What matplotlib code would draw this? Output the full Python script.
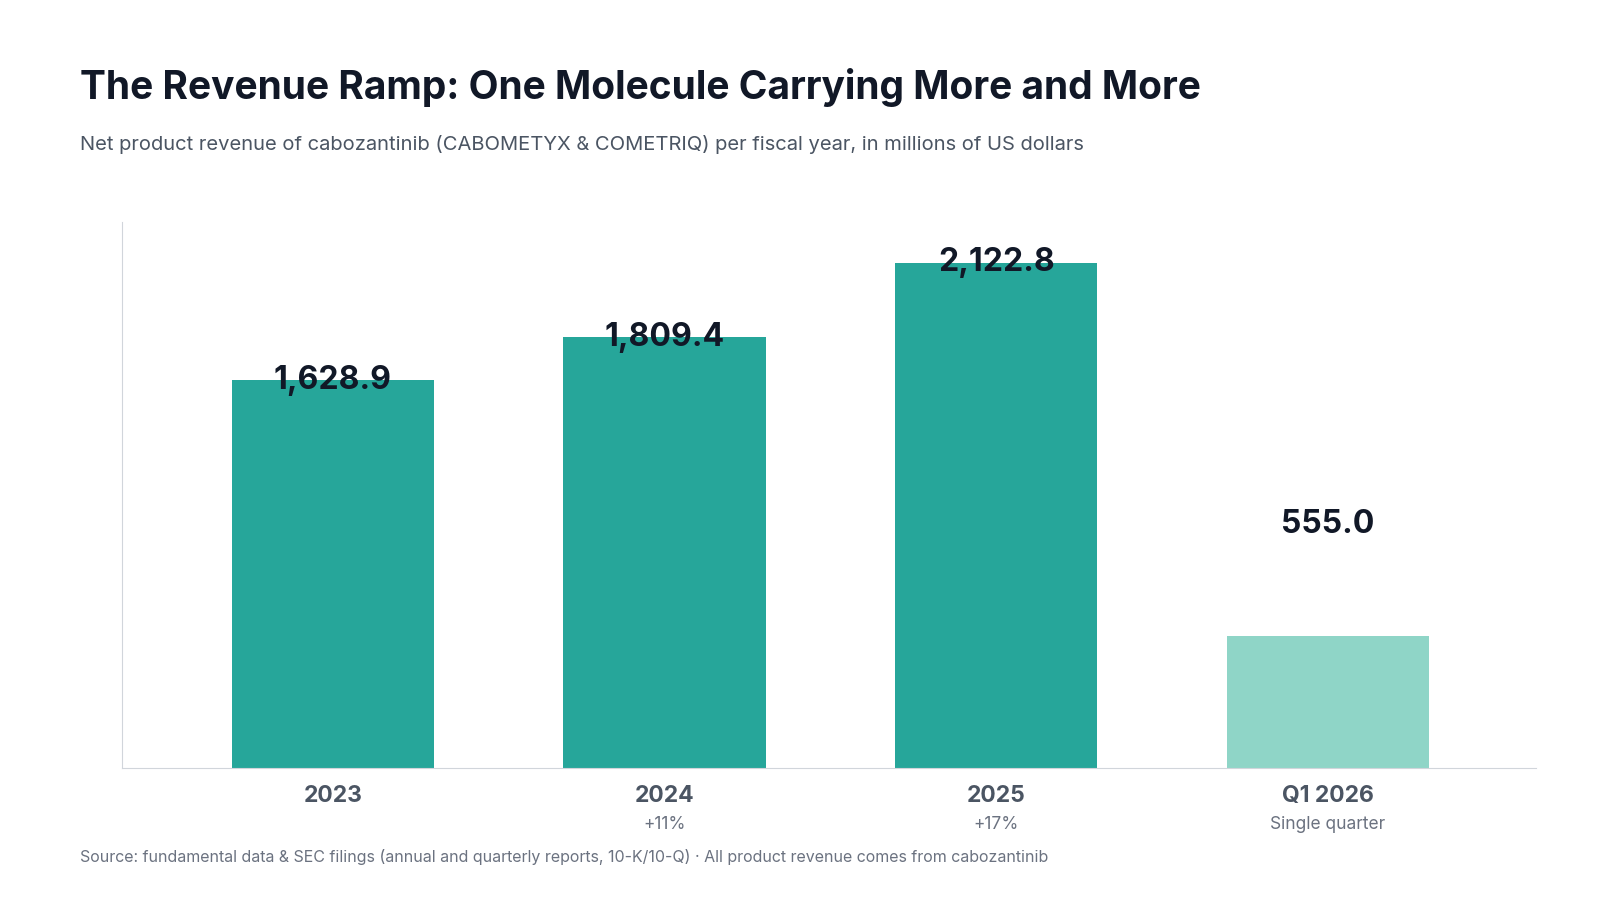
import matplotlib
matplotlib.use("Agg")
import matplotlib.pyplot as plt

categories = ["2023", "2024", "2025", "Q1 2026"]
revenue = [1628.9, 1809.4, 2122.8, 555.0]
sublabels = ["", "+11%", "+17%", "Single quarter"]
value_labels = ["1,628.9", "1,809.4", "2,122.8", "555.0"]

W, H = 1552, 873  # reference coordinates as viewed
plt.rcParams['font.family'] = ['Inter', 'DejaVu Sans']
fig = plt.figure(figsize=(16, 9), dpi=100)
ax = fig.add_axes([118/W, 1-745/H, (1490-118)/W, (745-215)/H])

colors = ["#26A69A", "#26A69A", "#26A69A", "#8FD5C7"]
x = list(range(len(categories)))
ax.bar(x, revenue, width=0.61, color=colors, zorder=2)
ax.set_xlim(-0.637, 3.628)
ax.set_ylim(0, 2296)

for i, (v, lab) in enumerate(zip(revenue, value_labels)):
    if i < 3:
        ax.text(i, v, lab, ha="center", va="center", fontsize=23, fontweight="bold", color="#111827", zorder=3)
    else:
        ax.annotate(lab, (i, v), xytext=(0, 80), textcoords="offset points",
                    ha="center", va="center", fontsize=23, fontweight="bold", color="#111827")

ax.set_xticks(x)
ax.set_xticklabels(categories, fontsize=16.5, fontweight="bold", color="#4B5563")
ax.tick_params(axis="x", length=0, pad=12)
ax.set_yticks([])
for i, s in enumerate(sublabels):
    if s:
        ax.annotate(s, (i, 0), xytext=(0, -41), textcoords="offset points",
                    ha="center", va="center", fontsize=12.5, color="#6B7280", annotation_clip=False)

for sp in ["top", "right"]:
    ax.spines[sp].set_visible(False)
ax.spines["left"].set_color("#D1D5DB")
ax.spines["bottom"].set_color("#D1D5DB")

fig.text(78/W, 1-85/H, "The Revenue Ramp: One Molecule Carrying More and More",
         fontsize=28, fontweight="bold", color="#111827", va="center")
fig.text(78/W, 1-140/H, "Net product revenue of cabozantinib (CABOMETYX & COMETRIQ) per fiscal year, in millions of US dollars",
         fontsize=14.5, color="#4B5563", va="center")
fig.text(78/W, 1-831/H, "Source: fundamental data & SEC filings (annual and quarterly reports, 10-K/10-Q) · All product revenue comes from cabozantinib",
         fontsize=11.5, color="#6B7280", va="center")

fig.savefig("out.png", dpi=100, facecolor="white")
